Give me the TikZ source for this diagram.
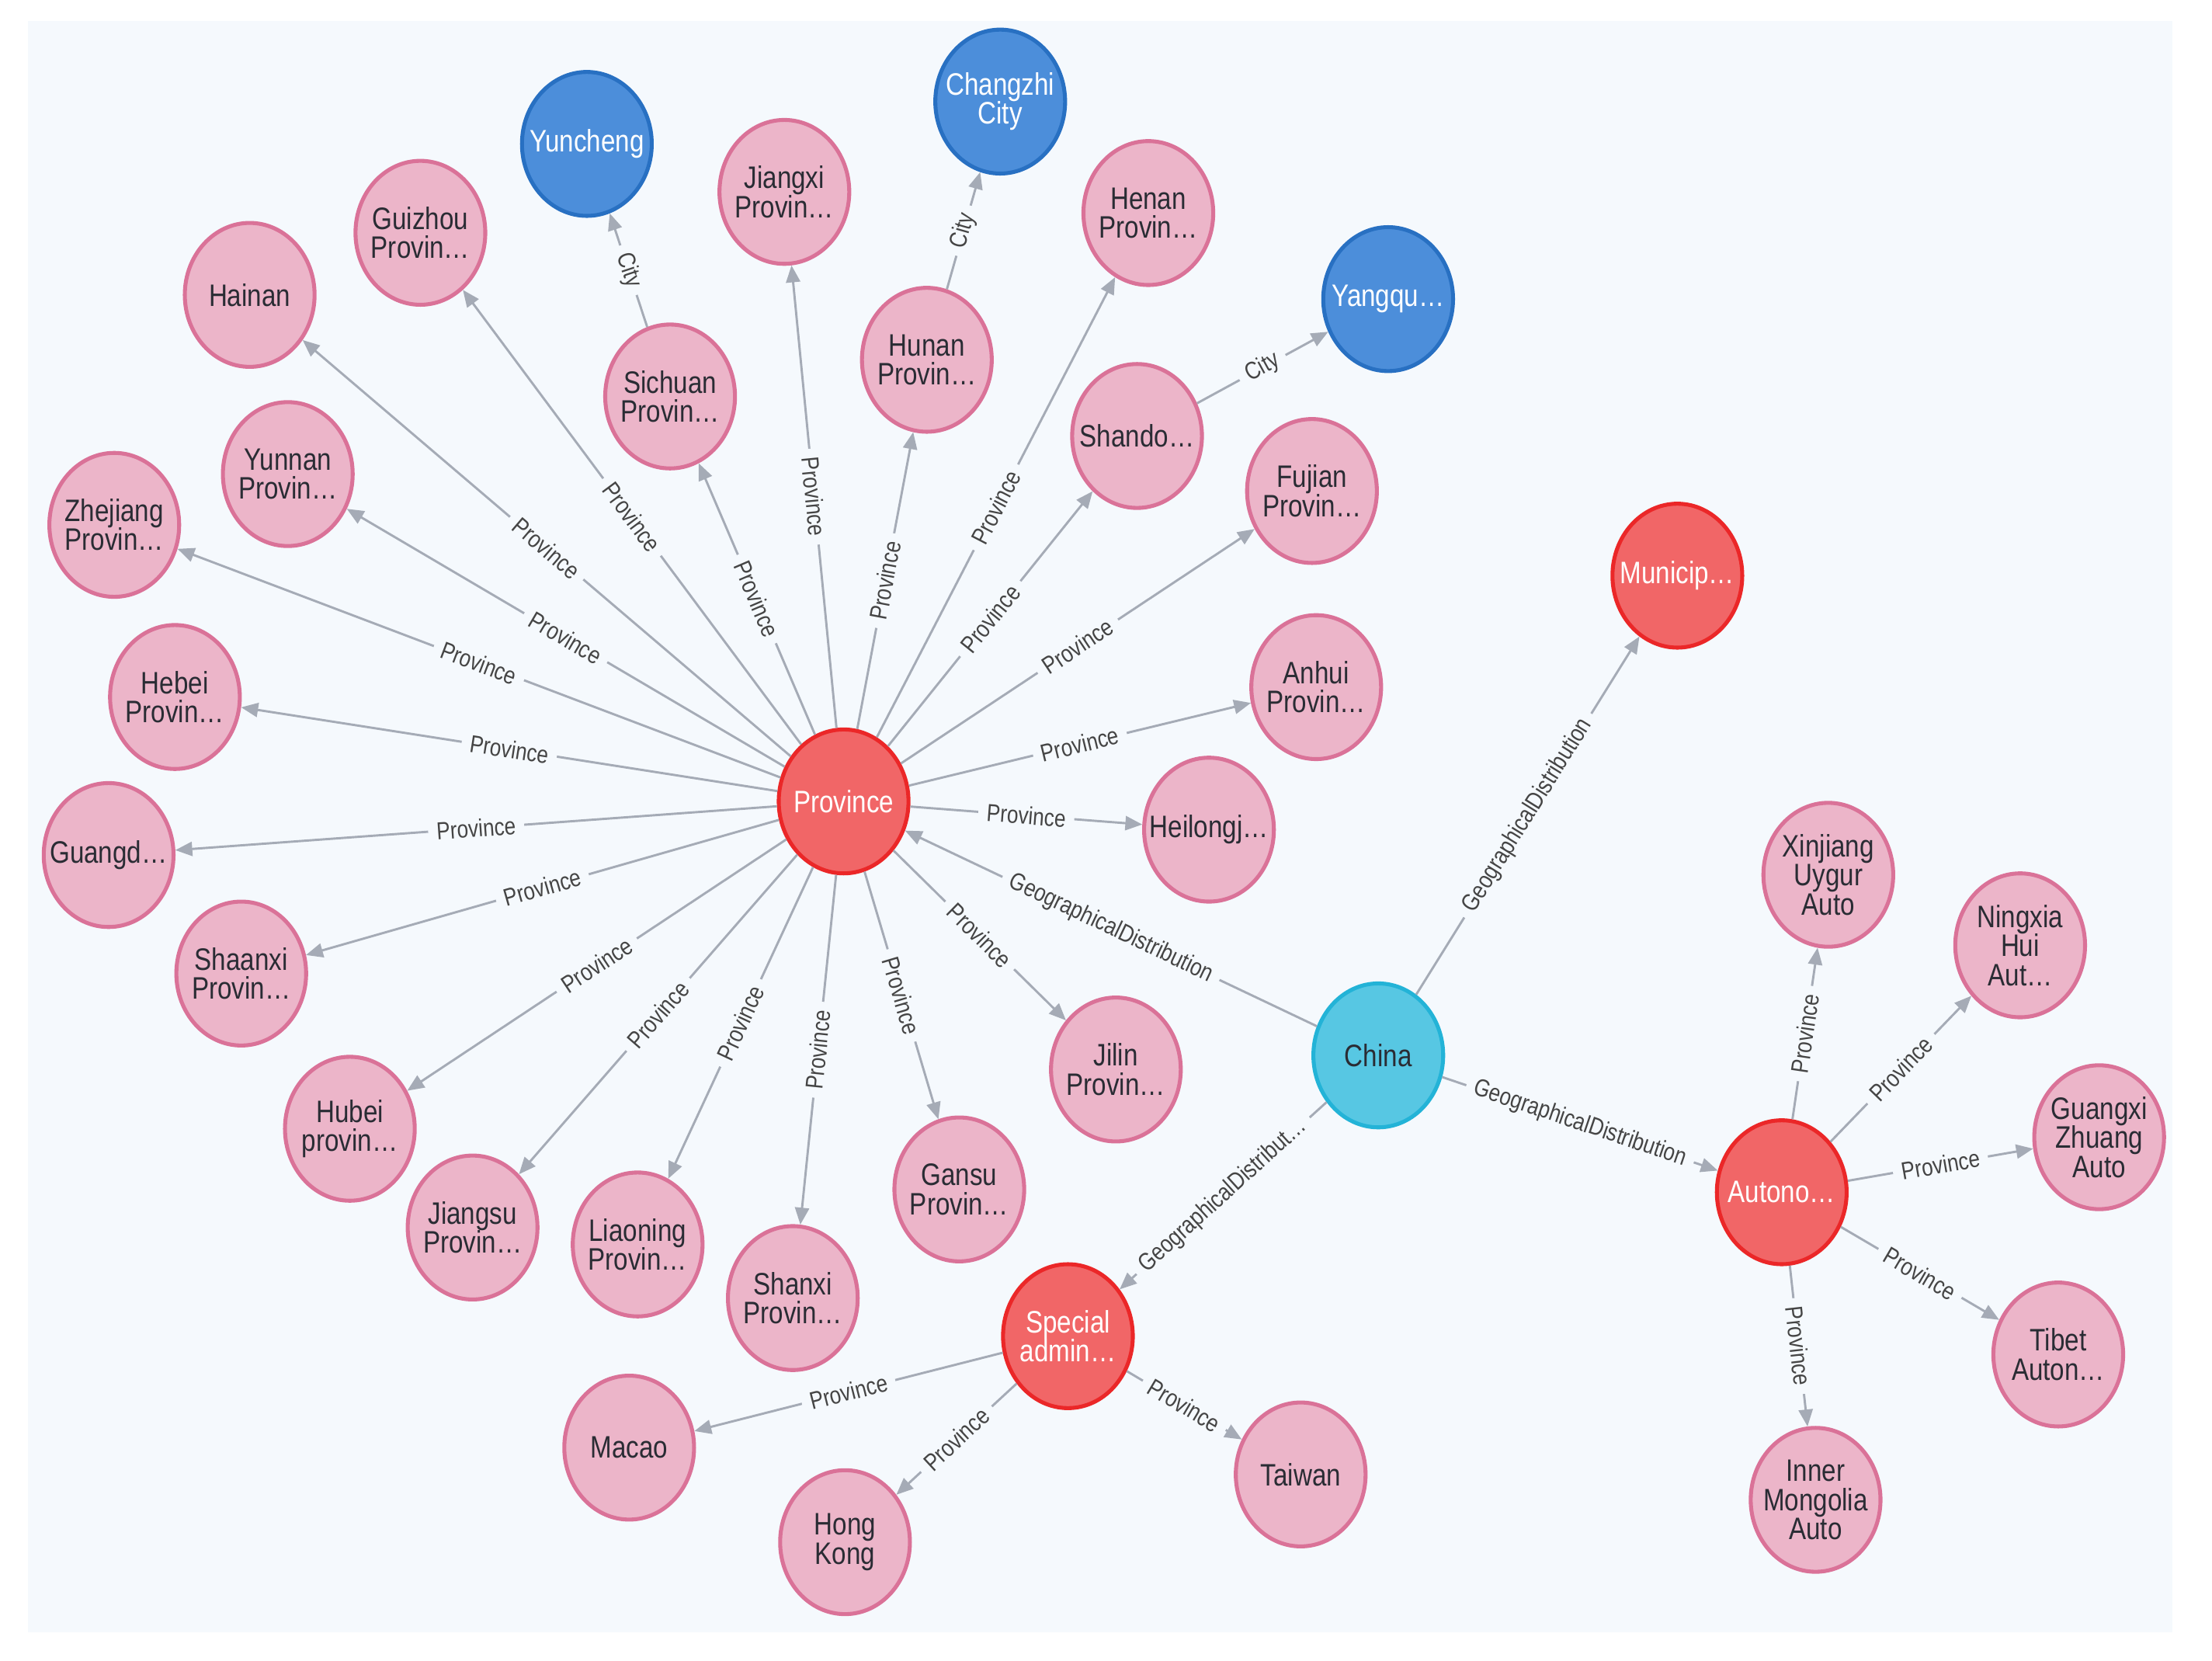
\documentclass[tikz,border=0pt]{standalone}
\usepackage{fontspec}
\setmainfont[FakeStretch=0.83]{Liberation Sans}
\usetikzlibrary{shapes.geometric,arrows.meta}
\definecolor{bgc}{HTML}{F5F9FD}
\definecolor{pinkf}{HTML}{ECB5C9}
\definecolor{pinkd}{HTML}{DA7298}
\definecolor{redf}{HTML}{F16667}
\definecolor{redd}{HTML}{EB2728}
\definecolor{bluef}{HTML}{4C8EDA}
\definecolor{blued}{HTML}{2870C2}
\definecolor{cyanf}{HTML}{57C7E3}
\definecolor{cyand}{HTML}{23B3D7}
\definecolor{edgec}{HTML}{A5ABB6}
\definecolor{txt}{HTML}{2A2C34}
\definecolor{ltxt}{HTML}{454545}
\begin{document}
\begin{tikzpicture}[x=0.5pt,y=-0.5pt,
  base/.style={ellipse, minimum width=46pt, minimum height=51pt, inner sep=-12pt,
    line width=1.4pt, align=center, font=\fontsize{11}{10.3}\selectfont},
  pnode/.style={base, fill=pinkf, draw=pinkd, text=txt},
  rnode/.style={base, fill=redf, draw=redd, text=white},
  bnode/.style={base, fill=bluef, draw=blued, text=white},
  cnode/.style={base, fill=cyanf, draw=cyand, text=txt},
  edge/.style={draw=edgec, line width=0.8pt, -{Triangle[length=6pt,width=5pt]}},
  elabel/.style={sloped, pos=0.5, fill=bgc, inner xsep=3pt, inner ysep=1pt,
    text=ltxt, font=\fontsize{8.7}{9}\selectfont}
]
\useasboundingbox (0,0) rectangle (1568,1177);
\fill[bgc] (20,15) rectangle (1540,1157);

% central nodes
\node[rnode] (prov) at (598,568) {Province};
\node[cnode] (china) at (977,748) {China};
\node[rnode] (munic) at (1189,408) {Municip…};
\node[rnode] (auto) at (1263,845) {Autono…};
\node[rnode] (spec) at (757,947) {Special\\admin…};

% province ring
\node[pnode] (hainan) at (177,209) {Hainan};
\node[pnode] (guizhou) at (298,165) {Guizhou\\Provin…};
\node[bnode] (yuncheng) at (416,102) {Yuncheng};
\node[pnode] (sichuan) at (475,281) {Sichuan\\Provin…};
\node[pnode] (jiangxi) at (556,136) {Jiangxi\\Provin…};
\node[bnode] (changzhi) at (709,72) {Changzhi\\City};
\node[pnode] (hunan) at (657,255) {Hunan\\Provin…};
\node[pnode] (henan) at (814,151) {Henan\\Provin…};
\node[bnode] (yangqu) at (984,212) {Yangqu…};
\node[pnode] (shando) at (806,309) {Shando…};
\node[pnode] (fujian) at (930,348) {Fujian\\Provin…};
\node[pnode] (anhui) at (933,487) {Anhui\\Provin…};
\node[pnode] (heilong) at (857,588) {Heilongj…};
\node[pnode] (jilin) at (791,758) {Jilin\\Provin…};
\node[pnode] (gansu) at (680,843) {Gansu\\Provin…};
\node[pnode] (shanxi) at (562,920) {Shanxi\\Provin…};
\node[pnode] (liaoning) at (452,882) {Liaoning\\Provin…};
\node[pnode] (jiangsu) at (335,870) {Jiangsu\\Provin…};
\node[pnode] (hubei) at (248,800) {Hubei\\provin…};
\node[pnode] (shaanxi) at (171,690) {Shaanxi\\Provin…};
\node[pnode] (guangd) at (77,606) {Guangd…};
\node[pnode] (hebei) at (124,494) {Hebei\\Provin…};
\node[pnode] (zhejiang) at (81,372) {Zhejiang\\Provin…};
\node[pnode] (yunnan) at (204,336) {Yunnan\\Provin…};

% special admin ring
\node[pnode] (macao) at (446,1026) {Macao};
\node[pnode] (hongkong) at (599,1093) {Hong\\Kong};
\node[pnode] (taiwan) at (922,1045) {Taiwan};

% autonomous ring
\node[pnode] (xinjiang) at (1296,620) {Xinjiang\\Uygur\\Auto};
\node[pnode] (ningxia) at (1432,670) {Ningxia\\Hui\\Aut…};
\node[pnode] (guangxi) at (1488,806) {Guangxi\\Zhuang\\Auto};
\node[pnode] (tibet) at (1459,960) {Tibet\\Auton…};
\node[pnode] (inner) at (1287,1063) {Inner\\Mongolia\\Auto};

% edges from Province
\foreach \t in {hainan,guizhou,sichuan,jiangxi,hunan,henan,shando,fujian,anhui,heilong,jilin,gansu,shanxi,liaoning,jiangsu,hubei,shaanxi,guangd,hebei,zhejiang,yunnan}{
  \draw[edge] (prov) -- node[elabel]{Province} (\t);
}
% city edges
\draw[edge] (sichuan) -- node[elabel]{City} (yuncheng);
\draw[edge] (hunan) -- node[elabel]{City} (changzhi);
\draw[edge] (shando) -- node[elabel]{City} (yangqu);

% China edges
\draw[edge] (china) -- node[elabel]{GeographicalDistribution} (prov);
\draw[edge] (china) -- node[elabel]{GeographicalDistribution} (munic);
\draw[edge] (china) -- node[elabel]{GeographicalDistribution} (auto);
\draw[edge] (china) -- node[elabel]{GeographicalDistribut…} (spec);

% special admin edges
\foreach \t in {macao,hongkong,taiwan}{
  \draw[edge] (spec) -- node[elabel]{Province} (\t);
}
% autonomous edges
\foreach \t in {xinjiang,ningxia,guangxi,tibet,inner}{
  \draw[edge] (auto) -- node[elabel]{Province} (\t);
}
\end{tikzpicture}
\end{document}
